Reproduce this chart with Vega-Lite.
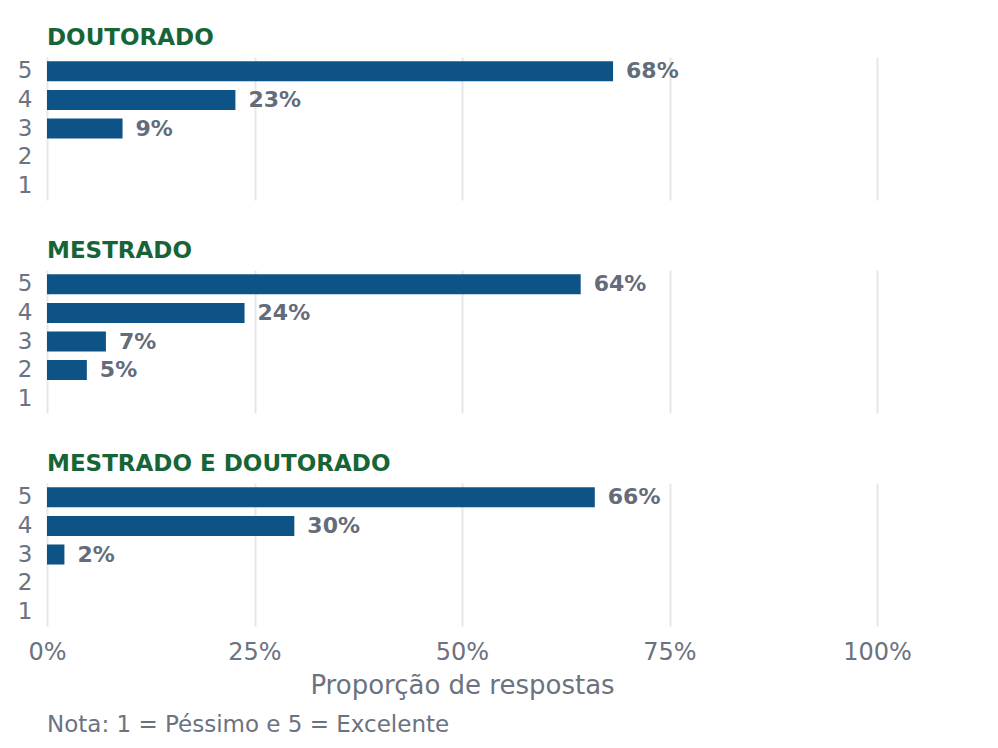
{
  "$schema": "https://vega.github.io/schema/vega-lite/v6.json",
  "background": "white",
  "padding": {"left": 17, "top": 27, "right": 5, "bottom": 5},
  "title": {
    "text": "Nota: 1 = Péssimo e 5 = Excelente",
    "orient": "bottom",
    "anchor": "start",
    "frame": "group",
    "fontSize": 23,
    "fontWeight": "normal",
    "color": "#6B7280",
    "offset": 16
  },
  "data": {
    "values": [
      {"grupo": "DOUTORADO", "nota": 5, "prop": 0.682},
      {"grupo": "DOUTORADO", "nota": 4, "prop": 0.227},
      {"grupo": "DOUTORADO", "nota": 3, "prop": 0.091},
      {"grupo": "MESTRADO", "nota": 5, "prop": 0.643},
      {"grupo": "MESTRADO", "nota": 4, "prop": 0.238},
      {"grupo": "MESTRADO", "nota": 3, "prop": 0.071},
      {"grupo": "MESTRADO", "nota": 2, "prop": 0.048},
      {"grupo": "MESTRADO E DOUTORADO", "nota": 5, "prop": 0.66},
      {"grupo": "MESTRADO E DOUTORADO", "nota": 4, "prop": 0.298},
      {"grupo": "MESTRADO E DOUTORADO", "nota": 3, "prop": 0.021}
    ]
  },
  "spacing": 40,
  "vconcat": [
    {
      "title": {"text": "DOUTORADO"},
      "transform": [{"filter": "datum.grupo === 'DOUTORADO'"}],
      "width": 830,
      "height": 143,
      "encoding": {
        "x": {
          "field": "prop",
          "type": "quantitative",
          "scale": {"domain": [0, 1], "nice": false},
          "axis": {"values": [0, 0.25, 0.5, 0.75, 1], "labels": false, "title": null}
        },
        "y": {
          "field": "nota",
          "type": "ordinal",
          "scale": {"domain": [5, 4, 3, 2, 1], "paddingInner": 0.3, "paddingOuter": 0.15},
          "axis": {"title": null, "labelFontSize": 23, "labelPadding": 15}
        }
      },
      "layer": [
        {"mark": {"type": "bar", "color": "#0E5385"}},
        {
          "mark": {"type": "text", "align": "left", "baseline": "middle", "dx": 13, "fontWeight": "bold", "fontSize": 22, "color": "#646C7A"},
          "encoding": {"text": {"field": "prop", "type": "quantitative", "format": ".0%"}}
        }
      ]
    },
    {
      "title": {"text": "MESTRADO"},
      "transform": [{"filter": "datum.grupo === 'MESTRADO'"}],
      "width": 830,
      "height": 143,
      "encoding": {
        "x": {
          "field": "prop",
          "type": "quantitative",
          "scale": {"domain": [0, 1], "nice": false},
          "axis": {"values": [0, 0.25, 0.5, 0.75, 1], "labels": false, "title": null}
        },
        "y": {
          "field": "nota",
          "type": "ordinal",
          "scale": {"domain": [5, 4, 3, 2, 1], "paddingInner": 0.3, "paddingOuter": 0.15},
          "axis": {"title": null, "labelFontSize": 23, "labelPadding": 15}
        }
      },
      "layer": [
        {"mark": {"type": "bar", "color": "#0E5385"}},
        {
          "mark": {"type": "text", "align": "left", "baseline": "middle", "dx": 13, "fontWeight": "bold", "fontSize": 22, "color": "#646C7A"},
          "encoding": {"text": {"field": "prop", "type": "quantitative", "format": ".0%"}}
        }
      ]
    },
    {
      "title": {"text": "MESTRADO E DOUTORADO"},
      "transform": [{"filter": "datum.grupo === 'MESTRADO E DOUTORADO'"}],
      "width": 830,
      "height": 143,
      "encoding": {
        "x": {
          "field": "prop",
          "type": "quantitative",
          "scale": {"domain": [0, 1], "nice": false},
          "axis": {
            "values": [0, 0.25, 0.5, 0.75, 1],
            "format": "%",
            "labelFontSize": 24,
            "labelPadding": 14,
            "labelFlush": false,
            "title": "Proporção de respostas",
            "titleFontSize": 26,
            "titlePadding": 8
          }
        },
        "y": {
          "field": "nota",
          "type": "ordinal",
          "scale": {"domain": [5, 4, 3, 2, 1], "paddingInner": 0.3, "paddingOuter": 0.15},
          "axis": {"title": null, "labelFontSize": 23, "labelPadding": 15}
        }
      },
      "layer": [
        {"mark": {"type": "bar", "color": "#0E5385"}},
        {
          "mark": {"type": "text", "align": "left", "baseline": "middle", "dx": 13, "fontWeight": "bold", "fontSize": 22, "color": "#646C7A"},
          "encoding": {"text": {"field": "prop", "type": "quantitative", "format": ".0%"}}
        }
      ]
    }
  ],
  "config": {
    "view": {"stroke": null},
    "font": "DejaVu Sans",
    "title": {
      "anchor": "start",
      "frame": "group",
      "fontSize": 23,
      "fontWeight": "bold",
      "color": "#176437",
      "offset": 7
    },
    "axisX": {
      "grid": true,
      "gridColor": "#E5E7EB",
      "gridWidth": 2,
      "domain": false,
      "ticks": false,
      "labelColor": "#6B7280",
      "titleColor": "#6B7280",
      "titleFontWeight": "normal"
    },
    "axisY": {
      "grid": false,
      "domain": false,
      "ticks": false,
      "labelColor": "#6B7280"
    }
  }
}
